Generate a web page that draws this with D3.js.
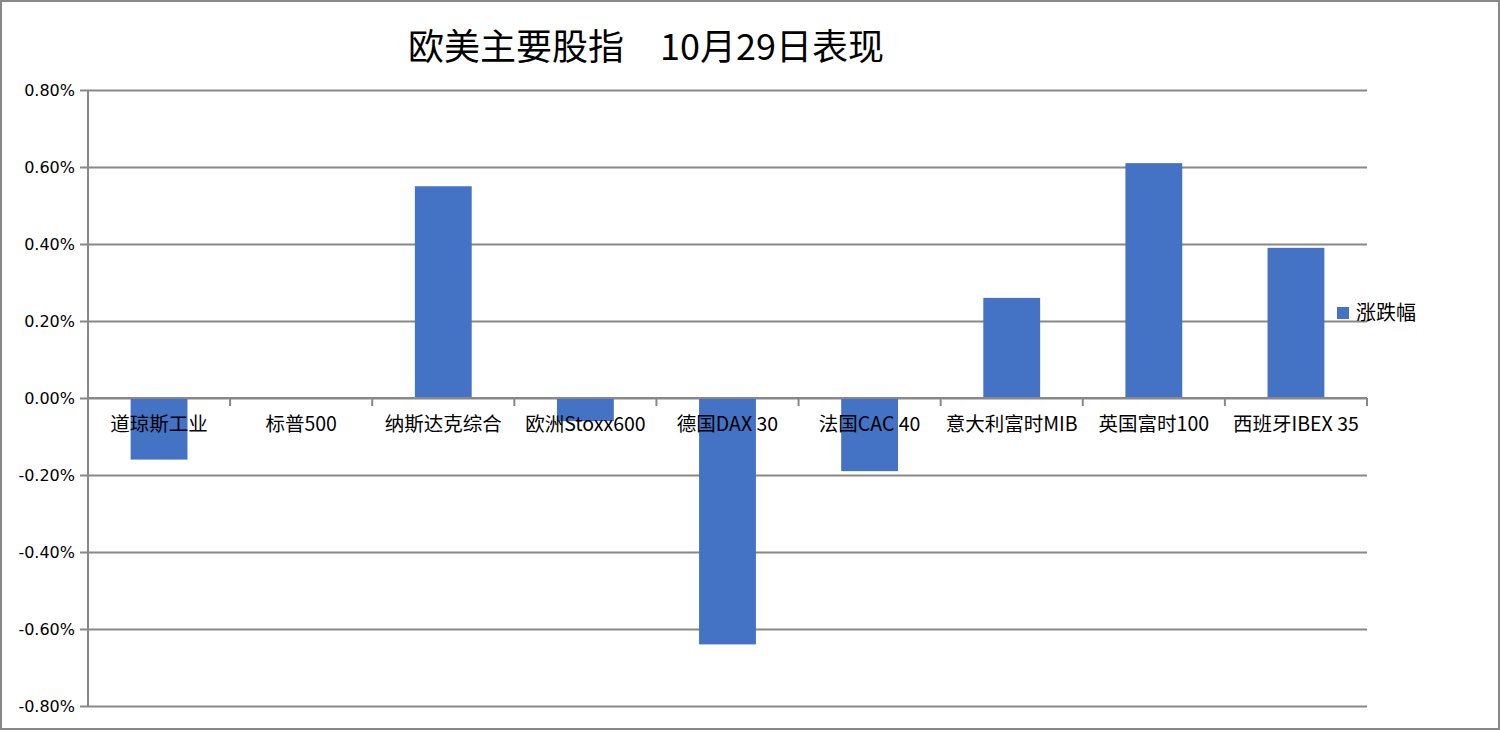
<!DOCTYPE html>
<meta charset="utf-8">
<title>欧美主要股指 10月29日表现</title>
<style>
body{ margin:0; background:white; }
text{ fill:#000; }
</style>
<body>
<script src="https://d3js.org/d3.v7.min.js"></script>
<script>

var categories = ['道琼斯工业', '标普500', '纳斯达克综合', '欧洲Stoxx600', '德国DAX 30', '法国CAC 40', '意大利富时MIB', '英国富时100', '西班牙IBEX 35'];
var changes = [-0.16, 0, 0.55, -0.06, -0.64, -0.19, 0.26, 0.61, 0.39];
var yticks = [-0.8, -0.6, -0.4, -0.2, 0, 0.2, 0.4, 0.6, 0.8];
var seriesname = '涨跌幅';
var title = '欧美主要股指　10月29日表现';

var width = 1500, height = 731;
var plot = {left: 88, right: 1367, top: 90, bottom: 706};
var gridcolor = '#888';
var barcolor = '#4472c4';
var cjk = '"Noto Sans CJK SC", "Noto Sans", sans-serif';

var svg = d3.select('body').append('svg')
	.attr('width', width)
	.attr('height', height);

// border
svg.append('rect')
	.attr('x', 1).attr('y', 1)
	.attr('width', width - 2).attr('height', height - 3)
	.attr('fill', 'white')
	.attr('stroke', gridcolor)
	.attr('stroke-width', 2);

var x = d3.scaleBand()
	.domain(categories)
	.range([plot.left, plot.right])
	.paddingInner(0.6)
	.paddingOuter(0.3);

var band = d3.scaleBand()
	.domain(categories)
	.range([plot.left, plot.right]);

var y = d3.scaleLinear()
	.domain([-0.8, 0.8])
	.range([plot.bottom, plot.top]);

// gridlines + y axis
var yaxis = svg.append('g')
	.attr('transform', 'translate(' + plot.left + ',0)')
	.call(d3.axisLeft(y)
		.tickValues(yticks)
		.tickSize(-(plot.right - plot.left))
		.tickPadding(13)
		.tickFormat(function(d){ return d.toFixed(2) + '%'; }));
yaxis.select('.domain').remove();
yaxis.selectAll('line')
	.attr('x1', -8)
	.attr('stroke', gridcolor)
	.attr('stroke-width', 2);
yaxis.selectAll('text')
	.style('font-family', '"DejaVu Sans", sans-serif')
	.style('font-size', '16px')
	.attr('fill', '#000');

svg.append('line')
	.attr('x1', plot.left).attr('x2', plot.left)
	.attr('y1', plot.top).attr('y2', plot.bottom)
	.attr('stroke', gridcolor)
	.attr('stroke-width', 2);

// bars
svg.append('g').selectAll('rect')
	.data(changes)
	.enter()
	.append('rect')
	.attr('x', function(d, i){ return x(categories[i]); })
	.attr('width', x.bandwidth())
	.attr('y', function(d){ return y(Math.max(0, d)); })
	.attr('height', function(d){ return Math.abs(y(d) - y(0)); })
	.attr('fill', barcolor);

// category axis at zero
var xaxis = svg.append('g')
	.attr('transform', 'translate(0,' + y(0) + ')');
xaxis.append('line')
	.attr('x1', plot.left).attr('x2', plot.right)
	.attr('stroke', gridcolor)
	.attr('stroke-width', 2);
xaxis.selectAll('.tick')
	.data(d3.range(categories.length + 1))
	.enter()
	.append('line')
	.attr('x1', function(i){ return plot.left + i * band.bandwidth(); })
	.attr('x2', function(i){ return plot.left + i * band.bandwidth(); })
	.attr('y1', 0).attr('y2', 8)
	.attr('stroke', gridcolor)
	.attr('stroke-width', 2);
xaxis.selectAll('.label')
	.data(categories)
	.enter()
	.append('text')
	.attr('x', function(d){ return band(d) + band.bandwidth() / 2; })
	.attr('y', 33)
	.attr('text-anchor', 'middle')
	.style('font-family', cjk)
	.style('font-size', '19.5px')
	.text(function(d){ return d; });

// legend
svg.append('rect')
	.attr('x', 1337).attr('y', 307)
	.attr('width', 12).attr('height', 12)
	.attr('fill', barcolor);
svg.append('text')
	.attr('x', 1356).attr('y', 320)
	.style('font-family', cjk)
	.style('font-size', '20px')
	.text(seriesname);

// title
svg.append('text')
	.attr('x', 646).attr('y', 60)
	.attr('text-anchor', 'middle')
	.style('font-family', cjk)
	.style('font-size', '36px')
	.text(title);

</script>
</body>
